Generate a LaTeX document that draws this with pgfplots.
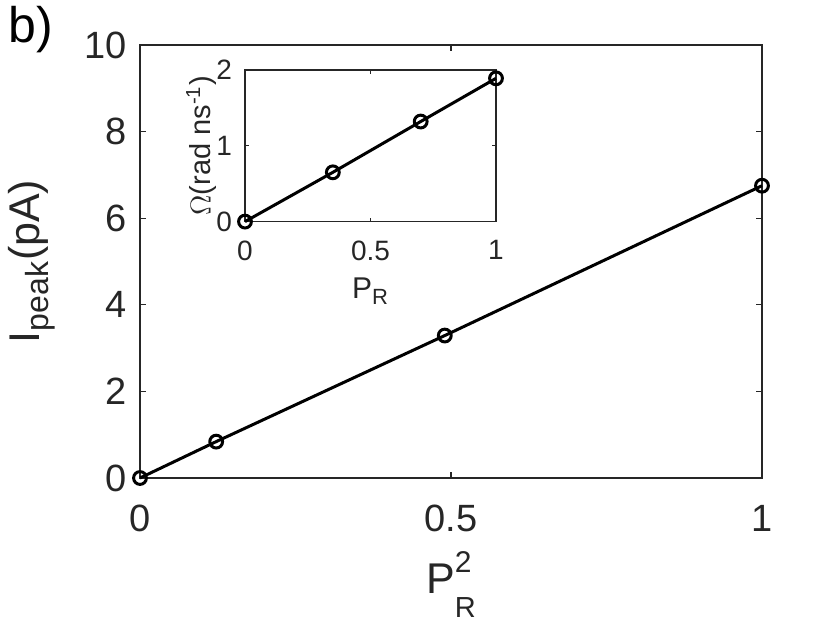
\documentclass[border=0pt]{standalone}
\usepackage{pgfplots}
\pgfplotsset{compat=1.18}
\usepackage{amsmath}
\usepackage{fontspec}
\setmainfont{Liberation Sans}
\definecolor{axgray}{RGB}{38,38,38}
\begin{document}
\begin{tikzpicture}
\useasboundingbox (-70pt,-76pt) rectangle (350pt,239pt);
\begin{axis}[
  name=main,
  at={(0pt,0pt)}, anchor=south west,
  scale only axis, width=311pt, height=216.5pt,
  xmin=0, xmax=1, ymin=0, ymax=10,
  xtick={0,0.5,1}, ytick={0,2,4,6,8,10},
  xticklabels={0,0.5,1},
  tick align=inside, major tick length=3pt,
  axis line style={axgray, line width=0.6pt},
  every tick/.style={axgray, line width=0.6pt},
  /pgf/number format/assume math mode=true,
  ticklabel style={font=\fontsize{19}{21}\selectfont, text=axgray},
  xticklabel style={yshift=-10pt},
  yticklabel style={xshift=-3pt},
  xlabel={P\rlap{\raisebox{10.5pt}{\fontsize{15}{15}\selectfont 2}}\raisebox{-12pt}{\fontsize{14.5}{15}\selectfont R}},
  ylabel={I$_{\text{\fontsize{16}{16}\selectfont peak}}$(pA)},
  label style={font=\fontsize{21.5}{24}\selectfont, text=axgray},
  xlabel style={yshift=-3pt},
  ylabel style={yshift=8pt},
  clip=false,
]
\addplot[black, line width=1.5pt, mark=o, mark size=3.2pt, mark options={line width=1.5pt}]
  coordinates {(0,0) (0.1225,0.84) (0.49,3.29) (1,6.75)};
\end{axis}
\node[anchor=north west, font=\fontsize{25}{27}\selectfont, text=black, inner sep=0pt] at (-66pt,236pt) {b)};
\begin{axis}[
  at={(52.5pt,128.2pt)}, anchor=south west,
  scale only axis, width=125.5pt, height=75.8pt,
  xmin=0, xmax=1, ymin=0, ymax=2,
  xtick={0,0.5,1}, ytick={0,1,2},
  xticklabels={0,0.5,1},
  tick align=inside, major tick length=2pt,
  axis background/.style={fill=white},
  axis line style={axgray, line width=0.6pt},
  every tick/.style={axgray, line width=0.6pt},
  /pgf/number format/assume math mode=true,
  ticklabel style={font=\fontsize{14}{16}\selectfont, text=axgray},
  xticklabel style={yshift=-6pt},
  yticklabel style={xshift=-3pt},
  xlabel={P$_{\text{\fontsize{11}{11}\selectfont R}}$},
  ylabel={$\Omega$(rad ns$^{\text{-1}}$)},
  xlabel style={font=\fontsize{15}{17}\selectfont, text=axgray, yshift=-2pt},
  ylabel style={font=\fontsize{14.5}{16}\selectfont, text=axgray, yshift=-7pt},
  clip=false,
]
\addplot[black, line width=1.5pt, mark=o, mark size=3.2pt, mark options={line width=1.5pt}]
  coordinates {(0,0) (0.35,0.65) (0.70,1.32) (1,1.89)};
\end{axis}
\end{tikzpicture}
\end{document}
